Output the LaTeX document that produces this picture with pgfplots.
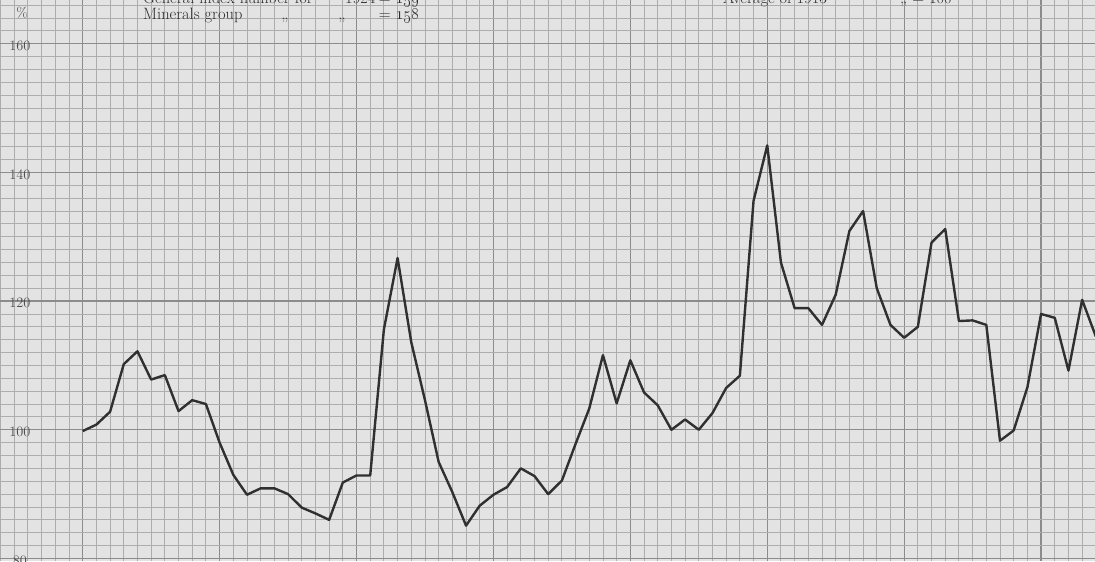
\documentclass[border=0pt]{standalone}
\usepackage{pgfplots}
\usepackage{pgfplotstable}
\pgfplotsset{compat=1.18}

\definecolor{paper}{gray}{0.89}
\definecolor{rule}{gray}{0.68}
\definecolor{heavy}{gray}{0.55}
\definecolor{ink}{gray}{0.19}

% monthly index numbers, minerals group (1913 = 100)
\pgfplotstableread{
m idx
0 99.8
1 100.8
2 102.8
3 110.2
4 112.2
5 107.8
6 108.5
7 102.9
8 104.6
9 104.0
10 98.0
11 93.0
12 89.9
13 90.9
14 90.9
15 90.0
16 87.9
17 87.0
18 86.0
19 91.8
20 92.9
21 92.9
22 115.6
23 126.7
24 113.6
25 104.6
26 95.0
27 90.3
28 85.1
29 88.2
30 89.9
31 91.1
32 94.0
33 92.8
34 90.0
35 92.1
36 97.8
37 103.3
38 111.6
39 104.1
40 110.8
41 105.8
42 103.8
43 100.0
44 101.6
45 100.0
46 102.6
47 106.5
48 108.4
49 135.6
50 144.2
51 126.0
52 118.9
53 118.9
54 116.3
55 121.0
56 130.9
57 134.0
58 122.0
59 116.3
60 114.3
61 116.0
62 129.1
63 131.2
64 116.9
65 117.0
66 116.3
67 98.3
68 99.9
69 106.6
70 118.0
71 117.4
72 109.2
73 120.2
74 114.5
}\minerals

\begin{document}
\begin{tikzpicture}
\begin{axis}[
  width=1095bp, height=561bp, scale only axis,
  xmin=-6.04, xmax=73.94, ymin=79.6, ymax=166.8,
  axis line style={draw=none},
  axis background/.style={fill=paper},
  % heavier lines every ten squares
  xtick={0,10,...,70}, xticklabels={},
  ytick={80,100,...,160},
  % light squares of the graph paper (heavy positions left out)
  minor xtick={-6,-5,-4,-3,-2,-1,1,2,3,4,5,6,7,8,9,11,12,13,14,15,16,17,18,19,
         21,22,23,24,25,26,27,28,29,31,32,33,34,35,36,37,38,39,
         41,42,43,44,45,46,47,48,49,51,52,53,54,55,56,57,58,59,
         61,62,63,64,65,66,67,68,69,71,72,73},
  minor ytick={82,84,86,88,90,92,94,96,98,102,104,106,108,110,112,114,116,118,
         122,124,126,128,130,132,134,136,138,142,144,146,148,150,152,154,156,158,
         162,164,166},
  grid=both,
  major grid style={draw=heavy, line width=1.3bp},
  minor grid style={draw=rule, line width=0.9bp},
  tick style={draw=none},
  yticklabel style={anchor=center, xshift=20bp, yshift=-2bp,
      font=\fontsize{14}{16}\selectfont, text=black!70},
]
\addplot[ink, line width=2.4bp, line join=round] table[x=m, y=idx]{\minerals};
\end{axis}

% header, partly cut off by the top of the sheet
\begin{scope}[every node/.style={inner sep=0pt, text=black!82, font=\fontsize{16.5}{18}\selectfont}]
\node[anchor=base west] at ([xshift=143bp, yshift=-4bp]current axis.north west) {General index number for};
\node[anchor=base west] at ([xshift=345bp, yshift=-4bp]current axis.north west) {1924};
\node[anchor=base east] at ([xshift=420bp, yshift=-4bp]current axis.north west) {= \oldstylenums{159}};
\node[anchor=base west] at ([xshift=143bp, yshift=-20bp]current axis.north west) {Minerals group};
\node[anchor=base] at ([xshift=285bp, yshift=-20bp]current axis.north west) {,,};
\node[anchor=base] at ([xshift=342bp, yshift=-20bp]current axis.north west) {,,};
\node[anchor=base east] at ([xshift=420bp, yshift=-20bp]current axis.north west) {= \oldstylenums{158}};
\node[anchor=base west] at ([xshift=723bp, yshift=-4bp]current axis.north west) {Average of 1913};
\node[anchor=base west] at ([xshift=900bp, yshift=-4bp]current axis.north west) {,, = 100};
\node[anchor=center, font=\fontsize{14}{16}\selectfont, text=black!70] at ([xshift=22bp, yshift=-13bp]current axis.north west) {\%};
\end{scope}

\pgfresetboundingbox
\path[use as bounding box] (current axis.south west) rectangle (current axis.north east);
\end{tikzpicture}
\end{document}
